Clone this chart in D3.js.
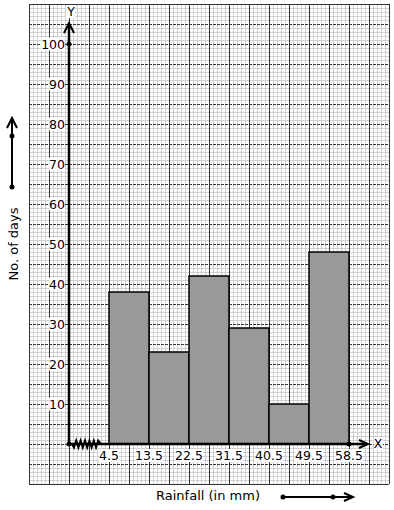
<!DOCTYPE html>
<html><head><meta charset="utf-8">
<script src="https://cdn.jsdelivr.net/npm/d3@7/dist/d3.min.js"></script>
<style>html,body{margin:0;padding:0;background:#fff}svg{display:block}</style>
</head><body><svg id="c" width="394" height="510"></svg>
<script>
const bounds = [4.5, 13.5, 22.5, 31.5, 40.5, 49.5, 58.5];
const boundLabels = ["4.5", "13.5", "22.5", "31.5", "40.5", "49.5", "58.5"];
const days = [38, 23, 42, 29, 10, 48];
const yTicks = [10, 20, 30, 40, 50, 60, 70, 80, 90, 100];
const xTitle = "Rainfall (in mm)";
const yTitle = "No. of days";

const svg = d3.select("#c");
const font = "DejaVu Sans, sans-serif";
const gx0 = 29, gx1 = 389, gy0 = 4, gy1 = 484;

const x = d3.scaleLinear().domain([4.5, 58.5]).range([109, 349]);
const y = d3.scaleLinear().domain([0, 100]).range([444, 44]);
const x0 = 69, y0 = y(0);

// graph paper
const g = svg.append("g");
for (let px = gx0; px <= gx1; px += 4) {
  if ((px - gx0) % 20 !== 0)
    g.append("line").attr("x1", px + 0.5).attr("x2", px + 0.5).attr("y1", gy0).attr("y2", gy1)
      .attr("stroke", "#cfcfcf").attr("stroke-width", 1);
}
for (let py = gy0; py <= gy1; py += 4) {
  if ((py - gy0) % 20 !== 0)
    g.append("line").attr("x1", gx0).attr("x2", gx1).attr("y1", py + 0.5).attr("y2", py + 0.5)
      .attr("stroke", "#cfcfcf").attr("stroke-width", 1);
}
for (let px = gx0; px <= gx1; px += 20) {
  g.append("line").attr("x1", px + 0.5).attr("x2", px + 0.5).attr("y1", gy0).attr("y2", gy1)
    .attr("stroke", "#333").attr("stroke-width", 1);
}
for (let py = gy0; py <= gy1; py += 20) {
  const border = (py === gy0 || py === gy1);
  g.append("line").attr("x1", gx0).attr("x2", gx1).attr("y1", py + 0.5).attr("y2", py + 0.5)
    .attr("stroke", "#333").attr("stroke-width", 1)
    .attr("stroke-dasharray", border ? null : "3,1");
}

// bars
svg.append("g").selectAll("rect").data(days).join("rect")
  .attr("x", (d, i) => x(bounds[i]))
  .attr("width", (d, i) => x(bounds[i + 1]) - x(bounds[i]))
  .attr("y", d => y(d))
  .attr("height", d => y(0) - y(d))
  .attr("fill", "#999999").attr("stroke", "#000").attr("stroke-width", 1.5);

// label with white background
function label(tx, ty, text, anchor, size) {
  const t = svg.append("text").attr("x", tx).attr("y", ty).attr("text-anchor", anchor)
    .attr("font-family", font).attr("font-size", size).attr("fill", "#000").text(text);
  const b = t.node().getBBox();
  svg.insert("rect", function () { return t.node(); })
    .attr("x", b.x).attr("y", b.y + 1).attr("width", b.width).attr("height", b.height - 2).attr("fill", "#fff");
  return t;
}

// axes
const ax = svg.append("g");
ax.append("line").attr("x1", x0).attr("x2", x0).attr("y1", y0).attr("y2", 24)
  .attr("stroke", "#000").attr("stroke-width", 2.5);
ax.append("path").attr("d", `M${x0 - 5},33 L${x0},23 L${x0 + 5},33`).attr("fill", "none")
  .attr("stroke", "#000").attr("stroke-width", 2);
ax.append("line").attr("x1", x0).attr("x2", 367).attr("y1", y0).attr("y2", y0)
  .attr("stroke", "#000").attr("stroke-width", 2.5);
ax.append("path").attr("d", `M359,${y0 - 4} L368,${y0} L359,${y0 + 4}`).attr("fill", "none")
  .attr("stroke", "#000").attr("stroke-width", 2);
// zigzag break
let zz = `M72,${y0}`;
for (let i = 0, px = 74; px <= 100; i++, px += 2.2) zz += ` L${px},${y0 + (i % 2 ? -3.5 : 3.5)}`;
zz += ` L101,${y0}`;
ax.append("path").attr("d", zz).attr("fill", "none").attr("stroke", "#000").attr("stroke-width", 2);
ax.append("circle").attr("cx", x0).attr("cy", y0).attr("r", 2.5).attr("fill", "#000");
ax.append("circle").attr("cx", x0).attr("cy", y(100)).attr("r", 2.5).attr("fill", "#000");
ax.append("circle").attr("cx", x(58.5)).attr("cy", y0).attr("r", 2.5).attr("fill", "#000");

label(71, 16, "Y", "middle", 12.5);
label(378, 448, "X", "middle", 12.5);

yTicks.forEach(v => label(65, y(v) + 4.5, String(v), "end", 12.5));
bounds.forEach((b, i) => label(x(b), 460, boundLabels[i], "middle", 12.5));

// titles
svg.append("text").attr("transform", "translate(18,244) rotate(-90)").attr("text-anchor", "middle")
  .attr("font-family", font).attr("font-size", 13).text(yTitle);
svg.append("text").attr("x", 208).attr("y", 500).attr("text-anchor", "middle")
  .attr("font-family", font).attr("font-size", 13).text(xTitle);

// direction arrows
const ya = svg.append("g");
ya.append("line").attr("x1", 12).attr("x2", 12).attr("y1", 187).attr("y2", 119).attr("stroke", "#000").attr("stroke-width", 2);
ya.append("path").attr("d", "M7,128 L12,118 L17,128").attr("fill", "none").attr("stroke", "#000").attr("stroke-width", 2);
ya.append("circle").attr("cx", 12).attr("cy", 187).attr("r", 2.5);
ya.append("circle").attr("cx", 12).attr("cy", 136).attr("r", 2.5);
const xa = svg.append("g");
xa.append("line").attr("x1", 283).attr("x2", 352).attr("y1", 497).attr("y2", 497).attr("stroke", "#000").attr("stroke-width", 2);
xa.append("path").attr("d", "M344,493 L353,497 L344,501").attr("fill", "none").attr("stroke", "#000").attr("stroke-width", 2);
xa.append("circle").attr("cx", 283).attr("cy", 497).attr("r", 2.5);
xa.append("circle").attr("cx", 333).attr("cy", 497).attr("r", 2.5);
</script></body></html>
